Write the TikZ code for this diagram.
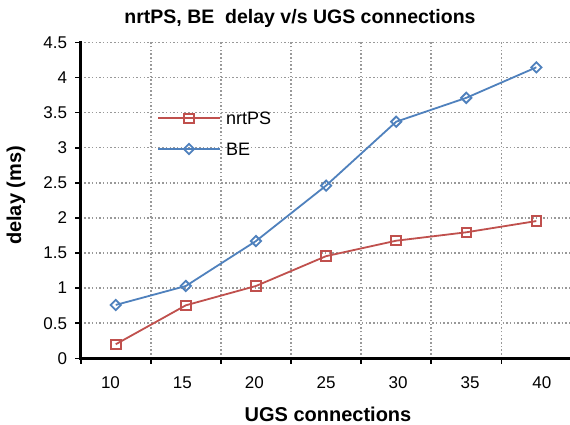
\documentclass[tikz,border=0pt]{standalone}
\usepackage{fontspec}
\setmainfont{Liberation Sans}
\usetikzlibrary{shapes.geometric}
\definecolor{nrtred}{HTML}{C0504D}
\definecolor{beblue}{HTML}{4F81BD}
\definecolor{gridgray}{HTML}{999999}
\tikzset{
  gridline/.style={draw=gridgray, line width=1.5pt, dash pattern=on 1.5pt off 2.2pt},
  axisline/.style={draw=black, line width=2.6pt},
  tickline/.style={draw=black, line width=1.6pt},
  nrtline/.style={draw=nrtred, line width=1.8pt},
  beline/.style={draw=beblue, line width=1.8pt},
  sqmark/.style={rectangle, draw=nrtred, line width=2pt, minimum size=9.5pt, inner sep=0pt},
  dmmark/.style={diamond, draw=beblue, line width=1.8pt, minimum size=11pt, inner sep=0pt},
  ticklab/.style={font=\fontsize{17}{20}\selectfont, inner sep=0pt},
  axlab/.style={font=\fontsize{20}{24}\selectfont\bfseries, inner sep=0pt},
  leglab/.style={font=\fontsize{18}{21}\selectfont, inner sep=0pt, anchor=west}
}
\begin{document}
\begin{tikzpicture}[x=1pt,y=1pt]
\useasboundingbox (0,0) rectangle (570,424);
\fill[white] (0,0) rectangle (570,424);

% chart title and axis titles
\node[axlab, font=\fontsize{19.5}{23}\selectfont\bfseries] (title) at (300,406) {nrtPS, BE\ \ delay v/s UGS connections};
\node[axlab, rotate=90] (ylab) at (16,228.5) {delay (ms)};
\node[axlab] (xlab) at (328,10) {UGS connections};

% category labels along the horizontal axis
\foreach \i/\t in {0/10,1/15,2/20,3/25,4/30,5/35,6/40}
  \node[ticklab] (xt\t) at (110.5+71.9*\i,41.3) {\t};

\begin{scope}[shift={(80.7,65.7)}, x=70.1pt, y=70.2pt]
  % grid
  \foreach \v in {0.5,1,...,4.5} \draw[gridline] (0,\v) -- (7,\v);
  \foreach \c in {1,...,6} \draw[gridline] (\c,0) -- (\c,4.5);
  % axes and ticks
  \foreach \v/\t in {0/0,0.5/0.5,1/1,1.5/1.5,2/2,2.5/2.5,3/3,3.5/3.5,4/4,4.5/4.5} {
    \draw[tickline] (0,\v) -- ++(-5.5pt,0);
    \node[ticklab, anchor=east] (yt\t) at ([xshift=-13.5pt]0,\v) {\t};
  }
  \foreach \c in {0,...,7} \draw[tickline] (\c,0) -- ++(0,-5.5pt);
  \draw[axisline] (0,4.52) -- (0,0) -- (7.05,0);

  % nrtPS series
  \foreach \i/\v in {1/0.2,2/0.755,3/1.03,4/1.455,5/1.675,6/1.795,7/1.955}
    \coordinate (r\i) at (\i-0.5,\v);
  \draw[nrtline] (r1) -- (r2) -- (r3) -- (r4) -- (r5) -- (r6) -- (r7);
  \foreach \i in {1,...,7} \node[sqmark] (rm\i) at (r\i) {};

  % BE series
  \foreach \i/\v in {1/0.76,2/1.03,3/1.67,4/2.46,5/3.37,6/3.71,7/4.145}
    \coordinate (b\i) at (\i-0.5,\v);
  \draw[beline] (b1) -- (b2) -- (b3) -- (b4) -- (b5) -- (b6) -- (b7);
  \foreach \i in {1,...,7} \node[dmmark] (bm\i) at (b\i) {};
\end{scope}

% legend
\coordinate (la1) at (158,305.7);
\coordinate (la2) at (220,305.7);
\draw[nrtline] (la1) -- (la2);
\node[sqmark] (lam) at (189,305.7) {};
\node[leglab] (lat) at (226,305.7) {nrtPS};
\coordinate (lb1) at (158,275);
\coordinate (lb2) at (220,275);
\draw[beline] (lb1) -- (lb2);
\node[dmmark] (lbm) at (189,275) {};
\node[leglab] (lbt) at (226,275) {BE};
\end{tikzpicture}
\end{document}
